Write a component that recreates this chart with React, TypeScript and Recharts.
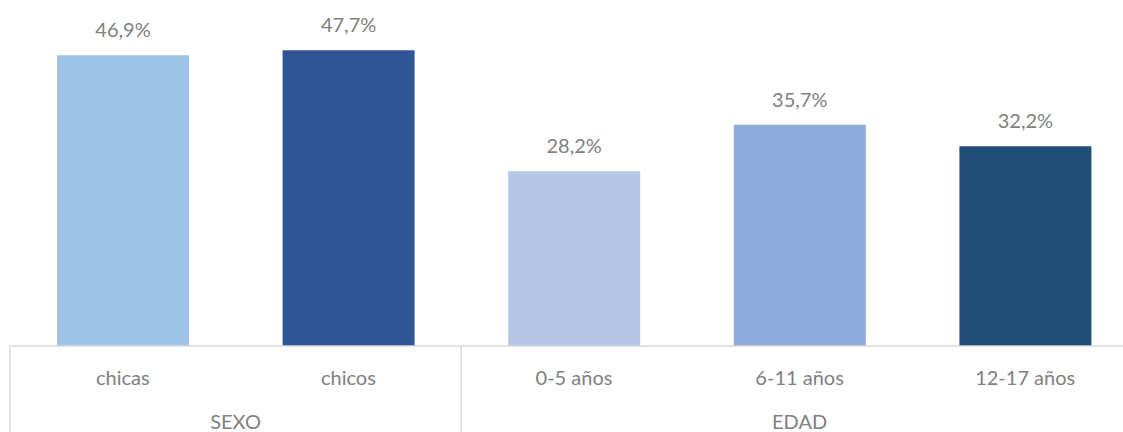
import React from 'react';
import { BarChart, Bar, XAxis, YAxis, Cell, LabelList } from 'recharts';

const categories = ['chicas', 'chicos', '0-5 años', '6-11 años', '12-17 años'];
const values = [46.9, 47.7, 28.2, 35.7, 32.2];
const groups = ['SEXO', 'SEXO', 'EDAD', 'EDAD', 'EDAD'];
const colors = ['#9DC3E6', '#2F5597', '#B4C7E7', '#8FAADC', '#1F4E79'];

const data = categories.map((c, i) => ({ name: c, value: values[i], group: groups[i] }));

const CHART_W = 1150;
const M_LEFT = 10;
const M_RIGHT = 12;
const BAND = (CHART_W - M_LEFT - M_RIGHT) / categories.length;
const FONT = 'Lato, "Open Sans", sans-serif';
const TEXT = '#808080';
const LINE = '#D9D9D9';

const fmt = (v: any) => `${Number(v).toFixed(1).replace('.', ',')}%`;

const Tick = (props: any) => {
  const { x, y, payload, index } = props;
  const i = index ?? payload.index;
  const els: any[] = [];
  els.push(
    <text key="c" x={x} y={y + 39} textAnchor="middle" fill={TEXT} fontSize={20} fontFamily={FONT}>
      {payload.value}
    </text>
  );
  if (i === 0 || groups[i] !== groups[i - 1]) {
    els.push(<line key="l" x1={x - BAND / 2} x2={x - BAND / 2} y1={y} y2={y + 90} stroke={LINE} strokeWidth={1.5} />);
  }
  if (i === categories.length - 1) {
    els.push(<line key="r" x1={x + BAND / 2} x2={x + BAND / 2} y1={y} y2={y + 90} stroke={LINE} strokeWidth={1.5} />);
  }
  const first = groups.indexOf(groups[i]);
  const last = groups.lastIndexOf(groups[i]);
  if (i === first) {
    const cx = x + ((last - first) * BAND) / 2;
    els.push(
      <text key="g" x={cx} y={y + 83} textAnchor="middle" fill={TEXT} fontSize={20} fontFamily={FONT}>
        {groups[i]}
      </text>
    );
  }
  return <g>{els}</g>;
};

export default function App() {
  return (
    <div style={{ position: 'absolute', left: 0, top: 0, width: 1123, height: 432, overflow: 'hidden', background: '#fff' }}>
      <BarChart
        width={CHART_W}
        height={432}
        data={data}
        margin={{ top: 36, right: M_RIGHT, left: M_LEFT, bottom: 0 }}
      >
        <XAxis
          dataKey="name"
          axisLine={{ stroke: LINE, strokeWidth: 1.5 }}
          tickLine={false}
          tickSize={0}
          tickMargin={0}
          height={86}
          interval={0}
          tick={<Tick />}
        />
        <YAxis hide domain={[0, 50]} />
        <Bar dataKey="value" barSize={132} isAnimationActive={false}>
          {data.map((d, i) => (
            <Cell key={d.name} fill={colors[i]} />
          ))}
          <LabelList dataKey="value" position="top" offset={18} formatter={fmt} fill={TEXT} fontSize={20} fontFamily={FONT} />
        </Bar>
      </BarChart>
    </div>
  );
}
